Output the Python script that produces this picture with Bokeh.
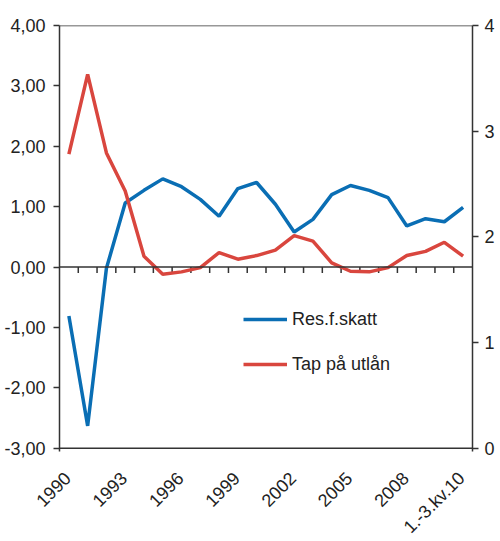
import math
from bokeh.plotting import figure
from bokeh.models import (Range1d, LinearAxis, FixedTicker, Span, Legend, LegendItem,
                          ColumnDataSource)
from bokeh.embed import file_html
from bokeh.resources import INLINE

categories = [str(y) for y in range(1990, 2011)] + ["1.-3.kv.10"]
res_f_skatt = [-0.81, -2.63, -0.02, 1.06, 1.27, 1.46, 1.33, 1.12, 0.84, 1.30, 1.40,
               1.04, 0.58, 0.79, 1.20, 1.35, 1.27, 1.15, 0.68, 0.80, 0.75, 0.99]
tap_paa_utlaan = [1.87, 3.19, 1.89, 1.26, 0.18, -0.12, -0.08, -0.01, 0.24, 0.13, 0.19,
                  0.28, 0.52, 0.43, 0.07, -0.07, -0.08, -0.01, 0.19, 0.26, 0.41, 0.18]
left_ticks = [-3, -2, -1, 0, 1, 2, 3, 4]
right_ticks = [0, 1, 2, 3, 4]
label_step = 3

BLUE = "#0A6EB4"
RED = "#D9463E"
INK = "#222222"
AX = "#333333"
FONT = "Liberation Sans"

W, H = 500, 541
TOP, BOTTOM_AXIS, BOTTOM_BORDER = 25, 447.7, 1
n = len(categories)
xs = list(range(n))

# the frame extends below the value axis so the rotated category labels fit inside it
lo, hi = left_ticks[0], left_ticks[-1]
per_px = (hi - lo) / (BOTTOM_AXIS - TOP)
frame_h = H - TOP - BOTTOM_BORDER
y_lo = hi - frame_h * per_px
r_lo, r_hi = right_ticks[0], right_ticks[-1]
to_right = lambda v: r_lo + (v - lo) * (r_hi - r_lo) / (hi - lo)

p = figure(width=W, height=H, output_backend="svg", toolbar_location=None,
           x_axis_location=None,
           x_range=Range1d(-0.5, n - 0.5), y_range=Range1d(y_lo, hi),
           min_border_left=59, min_border_right=28, min_border_top=TOP,
           min_border_bottom=BOTTOM_BORDER)
p.xgrid.visible = False
p.ygrid.visible = False
p.background_fill_color = "white"
p.border_fill_color = "white"
p.outline_line_color = None

# left axis
ya = p.yaxis[0]
ya.ticker = FixedTicker(ticks=left_ticks)
ya.bounds = (lo - 0.05, hi)
ya.major_label_overrides = {t: f"{t:.2f}".replace(".", ",") for t in left_ticks}
ya.minor_tick_line_color = None
ya.major_tick_in = 0
ya.major_tick_out = 6
ya.axis_line_color = AX
ya.axis_line_width = 1.5
ya.major_tick_line_color = AX
ya.major_tick_line_width = 1.5
ya.major_label_text_font = FONT
ya.major_label_text_font_size = "18px"
ya.major_label_text_color = INK
ya.major_label_standoff = 8

# right axis
p.extra_y_ranges = {"right": Range1d(to_right(y_lo), r_hi)}
ra = LinearAxis(y_range_name="right", ticker=FixedTicker(ticks=right_ticks))
ra.bounds = (r_lo - 0.03, r_hi)
ra.minor_tick_line_color = None
ra.major_tick_in = 0
ra.major_tick_out = 6
ra.axis_line_color = AX
ra.axis_line_width = 1.5
ra.major_tick_line_color = AX
ra.major_tick_line_width = 1.5
ra.major_label_text_font = FONT
ra.major_label_text_font_size = "18px"
ra.major_label_text_color = INK
ra.major_label_standoff = 6
p.add_layout(ra, "right")

# top and bottom frame lines, zero line
for loc in (hi, lo, 0):
    p.add_layout(Span(location=loc, dimension="width", line_color=AX, line_width=1.5))

# category separators hanging from the zero line
tick_len = 0.1
sep = ColumnDataSource(dict(x=[i + 0.5 for i in range(n - 1)],
                            y0=[0] * (n - 1), y1=[-tick_len] * (n - 1)))
p.segment(x0="x", x1="x", y0="y0", y1="y1", source=sep, line_color=AX, line_width=1.5)

# rotated category labels, end-anchored below each category
ang = math.pi / 4
dx, dy = 18, 20  # wanted screen shift of the label anchor from (category, axis)
c, s = math.cos(ang), math.sin(ang)
xo, yo = dx * c - dy * s, dx * s + dy * c  # offsets are applied in the rotated frame
idx = list(range(0, n, label_step))
lab = ColumnDataSource(dict(x=idx, y=[lo] * len(idx), t=[categories[i] for i in idx]))
tr = p.text(x="x", y="y", text="t", source=lab, angle=ang,
            text_align="right", text_baseline="middle", x_offset=xo, y_offset=yo,
            text_font={"value": FONT}, text_font_size="18px", text_color=INK)
tr.level = "overlay"

src = ColumnDataSource(dict(x=xs, res=res_f_skatt, tap=tap_paa_utlaan))
r1 = p.line("x", "res", source=src, line_color=BLUE, line_width=3.5)
r2 = p.line("x", "tap", source=src, line_color=RED, line_width=3.5)

legend = Legend(items=[LegendItem(label="Res.f.skatt", renderers=[r1]),
                       LegendItem(label="Tap på utlån", renderers=[r2])],
                location=(184, 73 + (H - BOTTOM_BORDER - BOTTOM_AXIS)), orientation="vertical",
                glyph_width=44, glyph_height=20, label_height=20, label_standoff=5,
                spacing=24, padding=0, margin=0,
                label_text_font=FONT, label_text_font_size="18px", label_text_color=INK,
                border_line_color=None, background_fill_alpha=0)
p.add_layout(legend, "center")

open("out.html", "w").write(file_html(p, INLINE))
